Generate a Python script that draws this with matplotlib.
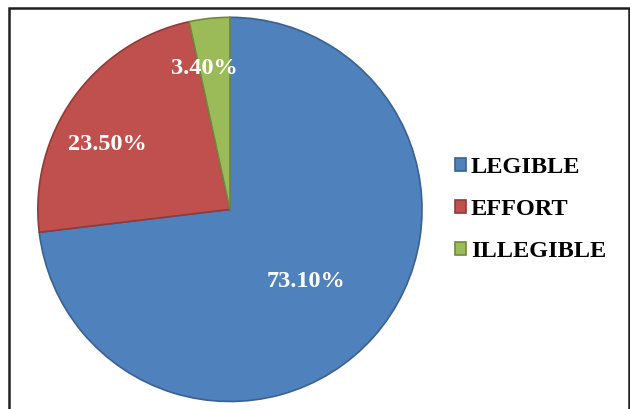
import matplotlib.pyplot as plt
from matplotlib.patches import Rectangle

labels = ["LEGIBLE", "EFFORT", "ILLEGIBLE"]
values = [73.10, 23.50, 3.40]
colors = ["#4F81BD", "#C0504D", "#9BBB59"]
edges = ["#3A6190", "#8E3B39", "#71893F"]

# label spots inside the pie (pie radius = 1)
label_pos = [(0.394, -0.376), (-0.637, 0.339), (-0.135, 0.733)]

plt.rcParams['font.family'] = ['Liberation Serif', 'DejaVu Serif']

fig = plt.figure(figsize=(6.3, 4.09), dpi=100)
ax = fig.add_axes([0.365 - 0.3065, 0.488 - 0.472, 0.613, 0.944])

wedges, texts = ax.pie(values, colors=colors, startangle=90, counterclock=False,
                       wedgeprops=dict(linewidth=1.2))
for w, ec in zip(wedges, edges):
    w.set_edgecolor(ec)

for v, (x, y) in zip(values, label_pos):
    ax.text(x, y, f"{v:.2f}%", ha="center", va="center", color="white",
            fontsize=17.5, fontweight="bold")
ax.set_xlim(-1.005, 1.005)
ax.set_ylim(-1.005, 1.005)
ax.set_aspect("equal")

leg = fig.legend(wedges, labels, loc="center left", bbox_to_anchor=(0.688, 0.487),
                 frameon=False, prop=dict(size=17.5, weight="bold"),
                 handlelength=0.42, handleheight=0.42, handletextpad=0.22,
                 labelspacing=0.86)

# outer chart frame
fig.patches.append(Rectangle((9 / 630, -0.05), 620 / 630, 1.05 - 8 / 409,
                             transform=fig.transFigure, fill=False,
                             edgecolor="#202020", linewidth=1.8))

fig.savefig("out.png", dpi=100)
